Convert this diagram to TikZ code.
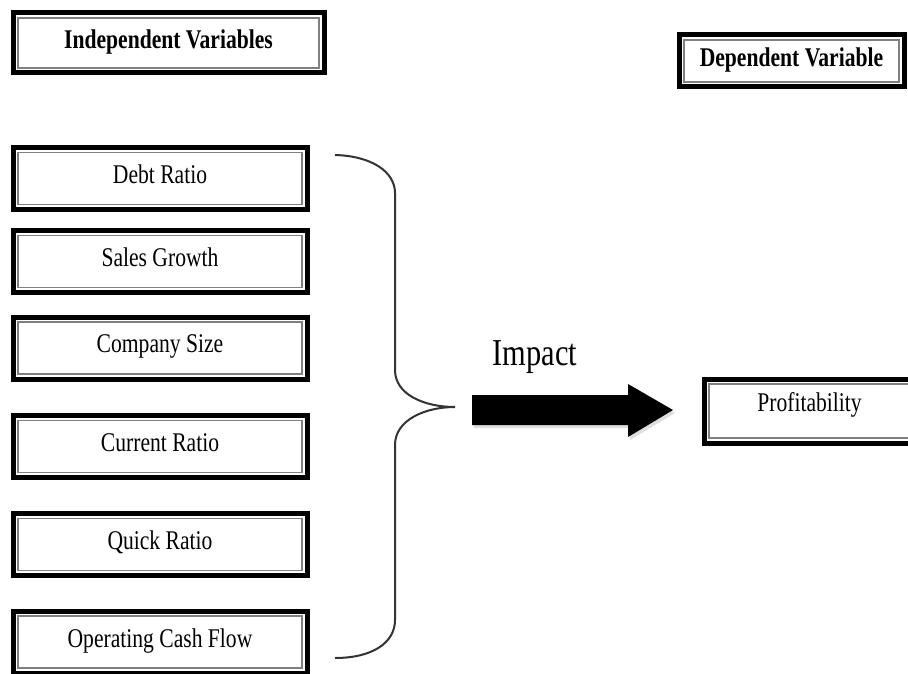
\documentclass[tikz,border=0pt]{standalone}
\usepackage{fontspec}
\setmainfont{Liberation Serif}[FakeStretch=0.8]
\usetikzlibrary{shadows}
\tikzset{
  varbox/.style={draw, line width=5pt, inner sep=2pt, minimum width=294pt, minimum height=62pt,
    font=\fontsize{27}{30}\selectfont, text depth=8pt,
    path picture={\draw[line width=1.8pt, black!50]
      ([xshift=5pt,yshift=-5pt]path picture bounding box.north west) rectangle
      ([xshift=-5pt,yshift=5pt]path picture bounding box.south east);}},
  headbox/.style={varbox, font=\fontsize{27}{30}\selectfont\bfseries},
}
\begin{document}
\begin{tikzpicture}[x=1pt,y=-1pt]
\clip (0,0) rectangle (908,674);
\fill[white] (0,0) rectangle (908,674);
\node[headbox, minimum width=311pt, minimum height=60pt] (indep) at (168.5,43) {Independent Variables};
\node[headbox, minimum width=225pt, minimum height=52pt] (dep) at (791.5,61) {Dependent Variable};
\node[varbox] (debt) at (160,178.5) {Debt Ratio};
\node[varbox] (sales) at (160,261.5) {Sales Growth};
\node[varbox] (size) at (160,348) {Company Size};
\node[varbox] (current) at (160,446.5) {Current Ratio};
\node[varbox] (quick) at (160,544.5) {Quick Ratio};
\node[varbox] (cash) at (160,642) {Operating Cash Flow};
\node[varbox, minimum width=211pt, minimum height=64pt, text depth=19pt] (profit) at (809.5,411) {Profitability};
\draw[line width=2pt, black!80] (335,155) .. controls (372,156) and (395,172) .. (395,193) -- (395,370)
  .. controls (395,395) and (425,407) .. (455,407) .. controls (425,407) and (395,420) .. (395,445)
  -- (395,620) .. controls (395,643) and (372,658) .. (335,658);
\node[font=\fontsize{38}{40}\selectfont, anchor=base] (impact) at (535,365) {Impact};
\fill[black, drop shadow={shadow xshift=2pt, shadow yshift=-3pt, fill=black!25}]
  (472,395) -- (628,395) -- (628,384) -- (673,410) -- (628,437) -- (628,425) -- (472,425) -- cycle;
\end{tikzpicture}
\end{document}
